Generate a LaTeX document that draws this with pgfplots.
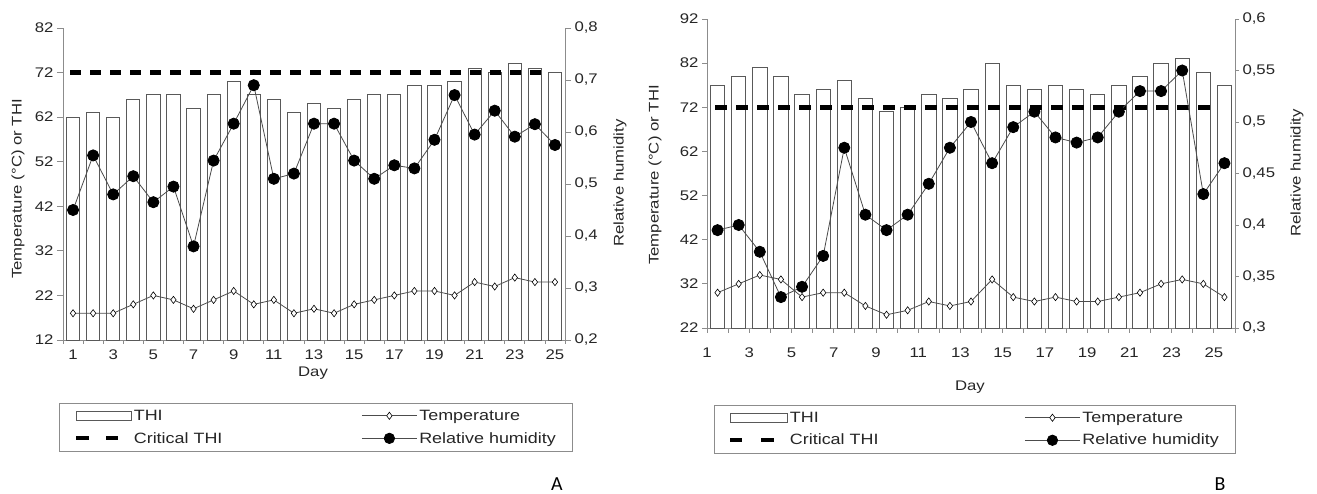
\documentclass[border=0pt]{standalone}
\usepackage{pgfplots}
\pgfplotsset{compat=1.18}
\usepackage{pgfplotstable}
\usepackage{fontspec}
\setmainfont{Liberation Sans}[FakeStretch=1.2]
\newfontfamily\carlito{Carlito}

\pgfplotstableread{
day thi t rh
1 62 18 0.450
2 63 18 0.555
3 62 18 0.480
4 66 20 0.515
5 67 22 0.465
6 67 21 0.495
7 64 19 0.380
8 67 21 0.545
9 70 23 0.616
10 67 20 0.690
11 66 21 0.510
12 63 18 0.520
13 65 19 0.616
14 64 18 0.616
15 66 20 0.545
16 67 21 0.510
17 67 22 0.536
18 69 23 0.530
19 69 23 0.585
20 70 22 0.671
21 73 25 0.595
22 72 24 0.641
23 74 26 0.591
24 73 25 0.615
25 72 25 0.575
}\dataA

\pgfplotstableread{
day thi t rh
1.5 77 30 0.395
2.5 79 32 0.400
3.5 81 34 0.374
4.5 79 33 0.330
5.5 75 29 0.340
6.5 76 30 0.370
7.5 78 30 0.475
8.5 74 27 0.410
9.5 71 25 0.395
10.5 72 26 0.410
11.5 75 28 0.440
12.5 74 27 0.475
13.5 76 28 0.500
14.5 82 33 0.460
15.5 77 29 0.495
16.5 76 28 0.510
17.5 77 29 0.485
18.5 76 28 0.480
19.5 75 28 0.485
20.5 77 29 0.510
21.5 79 30 0.530
22.5 82 32 0.530
23.5 83 33 0.550
24.5 80 32 0.430
25.5 77 29 0.460
}\dataB

\definecolor{axgray}{gray}{0.55}
\definecolor{bargray}{gray}{0.35}
\definecolor{lngray}{gray}{0.3}

\tikzset{lab/.style={font=\fontsize{14}{16}\selectfont, text=black!85}}

\pgfplotsset{
  base/.style={
    scale only axis,
    anchor=south west,
    axis line style={-, axgray, line width=0.8bp},
    tick style={axgray, line width=0.8bp},
    tick align=outside,
    major tick length=6bp,
    minor tick length=4bp,
    tick label style={font=\fontsize{14}{16}\selectfont, black!85},
    /pgf/number format/assume math mode=true,
    clip=false,
  },
  legstyle/.style={
    legend cell align=left,
    legend style={font=\fontsize{15}{17}\selectfont, draw=axgray, line width=0.8bp,
      inner xsep=#1, inner ysep=4.5bp, row sep=6.5bp, column sep=0bp,
      nodes={inner sep=2bp, text=black!85}},
  },
}

\begin{document}
\begin{tikzpicture}
\useasboundingbox (0,0) rectangle (1317bp,494bp);

%%%%%%%%%%%%%%%% Panel A
\begin{axis}[base,
  at={(63bp,154bp)}, width=502bp, height=312bp,
  xmin=0.5, xmax=25.5, ymin=12, ymax=82,
  axis y line*=left, axis x line*=bottom,
  ytick={12,22,...,82},
  xtick={1,3,...,25},
  minor xtick={0.5,1.5,...,25.5},
  major x tick style={draw=none},
  xticklabel shift=0bp,
  every axis y label/.style={lab, at={(axis description cs:-0.0896,0.484)}, rotate=90, anchor=center},
  every axis x label/.style={lab, at={(axis description cs:0.498,-0.106)}, anchor=center},
  ylabel={Temperature (°C) or THI},
  xlabel={Day},
]
\addplot[ybar, bar width=0.66, fill=white, draw=bargray, line width=0.9bp] table[x=day, y=thi] {\dataA};
\addplot[black, line width=4.5bp, dash pattern=on 11bp off 9bp] coordinates {(0.85,72) (24.35,72)};
\addplot[lngray, line width=0.8bp, mark=diamond*, mark size=3.6bp,
  mark options={fill=white, draw=black, line width=0.6bp}] table[x=day, y=t] {\dataA};
\end{axis}

\begin{axis}[base, legstyle=15bp,
  at={(63bp,154bp)}, width=502bp, height=312bp,
  xmin=0.5, xmax=25.5, ymin=0.2, ymax=0.8,
  axis y line*=right, axis x line=none,
  ytick={0.2,0.3,0.4,0.5,0.6,0.7,0.8},
  yticklabel style={/pgf/number format/.cd, use comma, fixed, precision=1},
  every axis y label/.style={lab, at={(axis description cs:1.1096,0.503)}, rotate=90, anchor=center},
  ylabel={Relative humidity},
  legend columns=2,
  legend style={at={(axis description cs:-0.008,-0.202)}, anchor=north west,
    /tikz/every even column/.append style={column sep=137bp}},
]
\addplot[lngray, line width=0.8bp, mark=*, mark size=5.6bp,
  mark options={fill=black, draw=black}, forget plot] table[x=day, y=rh] {\dataA};
\addlegendimage{legend image code/.code={\draw[draw=bargray, fill=white, line width=0.9bp] (0bp,-4.5bp) rectangle (55bp,4.5bp);}}
\addlegendentry{THI}
\addlegendimage{legend image code/.code={\draw[lngray, line width=0.8bp] (0bp,0bp) -- (55bp,0bp); \path[draw=black, fill=white, line width=0.6bp] (27.5bp,3.6bp) -- (30.2bp,0bp) -- (27.5bp,-3.6bp) -- (24.8bp,0bp) -- cycle;}}
\addlegendentry{Temperature}
\addlegendimage{legend image code/.code={\draw[black, line width=4bp] (0bp,0bp) -- (13bp,0bp) (30bp,0bp) -- (42bp,0bp);}}
\addlegendentry{Critical THI}
\addlegendimage{legend image code/.code={\draw[lngray, line width=0.8bp] (0bp,0bp) -- (55bp,0bp); \fill[black] (27.5bp,0bp) circle (5.2bp);}}
\addlegendentry{Relative humidity}
\end{axis}

%%%%%%%%%%%%%%%% Panel B
\begin{axis}[base,
  at={(707bp,166bp)}, width=528bp, height=309bp,
  xmin=1, xmax=26, ymin=22, ymax=92,
  axis y line*=left, axis x line*=bottom,
  ytick={22,32,...,92},
  xtick={1,...,26},
  xticklabels={1,,3,,5,,7,,9,,11,,13,,15,,17,,19,,21,,23,,25,},
  major tick length=5bp,
  xticklabel shift=11bp,
  every axis y label/.style={lab, at={(axis description cs:-0.0985,0.495)}, rotate=90, anchor=center},
  every axis x label/.style={lab, at={(axis description cs:0.498,-0.191)}, anchor=center},
  ylabel={Temperature (°C) or THI},
  xlabel={Day},
]
\addplot[ybar, bar width=0.68, fill=white, draw=bargray, line width=0.9bp] table[x=day, y=thi] {\dataB};
\addplot[black, line width=4.5bp, dash pattern=on 12bp off 9bp] coordinates {(1.38,72) (25.05,72)};
\addplot[lngray, line width=0.8bp, mark=diamond*, mark size=3.6bp,
  mark options={fill=white, draw=black, line width=0.6bp}] table[x=day, y=t] {\dataB};
\end{axis}

\begin{axis}[base, legstyle=14bp,
  at={(707bp,166bp)}, width=528bp, height=309bp,
  xmin=1, xmax=26, ymin=0.3, ymax=0.6,
  axis y line*=right, axis x line=none,
  major tick length=4bp,
  ytick={0.3,0.35,0.4,0.45,0.5,0.55,0.6},
  yticklabel style={/pgf/number format/.cd, use comma, precision=2},
  every axis y label/.style={lab, at={(axis description cs:1.1174,0.502)}, rotate=90, anchor=center},
  ylabel={Relative humidity},
  legend columns=2,
  legend style={at={(axis description cs:0.0133,-0.249)}, anchor=north west,
    /tikz/every even column/.append style={column sep=144bp}},
]
\addplot[lngray, line width=0.8bp, mark=*, mark size=5.6bp,
  mark options={fill=black, draw=black}, forget plot] table[x=day, y=rh] {\dataB};
\addlegendimage{legend image code/.code={\draw[draw=bargray, fill=white, line width=0.9bp] (0bp,-4.5bp) rectangle (57bp,4.5bp);}}
\addlegendentry{THI}
\addlegendimage{legend image code/.code={\draw[lngray, line width=0.8bp] (0bp,0bp) -- (55bp,0bp); \path[draw=black, fill=white, line width=0.6bp] (27.5bp,3.6bp) -- (30.2bp,0bp) -- (27.5bp,-3.6bp) -- (24.8bp,0bp) -- cycle;}}
\addlegendentry{Temperature}
\addlegendimage{legend image code/.code={\draw[black, line width=4bp] (0bp,0bp) -- (12bp,0bp) (31bp,0bp) -- (44bp,0bp);}}
\addlegendentry{Critical THI}
\addlegendimage{legend image code/.code={\draw[lngray, line width=0.8bp] (0bp,0bp) -- (55bp,0bp); \fill[black] (27.5bp,0bp) circle (5.2bp);}}
\addlegendentry{Relative humidity}
\end{axis}

\node[font=\carlito\fontsize{20}{24}\selectfont, anchor=center] at (557bp,10bp) {A};
\node[font=\carlito\fontsize{20}{24}\selectfont, anchor=center] at (1220bp,10bp) {B};
\end{tikzpicture}
\end{document}
